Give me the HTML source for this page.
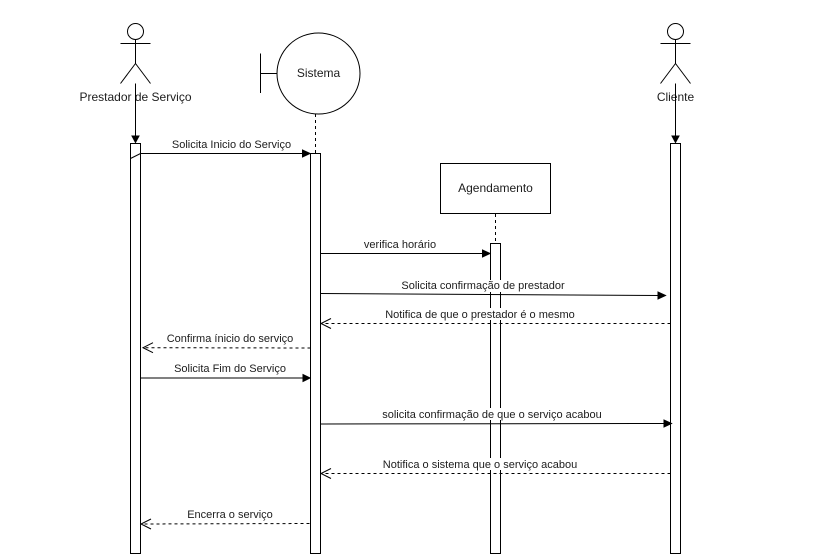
<!DOCTYPE html>
<html>
<head>
<meta charset="utf-8">
<style>
html,body{margin:0;padding:0;background:#fff;width:827px;height:559px;overflow:hidden}
svg{display:block}
text{font-family:"Liberation Sans",Arial,sans-serif;fill:#1c1c1c;text-anchor:middle}
.n{font-size:12px}
.m{font-size:11px}
.l{fill:none;stroke:#000;stroke-width:1}
.d{fill:none;stroke:#000;stroke-width:1;stroke-dasharray:3 3}
.b{fill:#000;stroke:#000;stroke-width:1}
.o{fill:none;stroke:#000;stroke-width:1}
.r{fill:#fff;stroke:#000;stroke-width:1}
.w{fill:#fff;stroke:none}
</style>
</head>
<body>
<svg width="827" height="559" viewBox="0 0 827 559" xmlns="http://www.w3.org/2000/svg">
<!-- Activation bars -->
<rect class="r" x="130.5" y="143.5" width="10" height="410"/>
<rect class="r" x="310.5" y="153.5" width="10" height="400"/>
<rect class="r" x="490.5" y="243.5" width="10" height="310"/>
<rect class="r" x="670.5" y="143.5" width="10" height="410"/>

<!-- Actor: Prestador -->
<circle class="l" cx="135.5" cy="31.5" r="8"/>
<path class="l" d="M135.5 39.5V63.5M120.5 43.5H150.5M135.5 63.5L120.5 83.5M135.5 63.5L150.5 83.5"/>
<text class="n" x="135.5" y="101">Prestador de Serviço</text>
<path class="l" d="M135.5 83.5V138"/>
<path class="b" d="M135.5 142.5L132 136H139Z"/>

<!-- Actor: Cliente -->
<circle class="l" cx="675.5" cy="31.5" r="8"/>
<path class="l" d="M675.5 39.5V63.5M660.5 43.5H690.5M675.5 63.5L660.5 83.5M675.5 63.5L690.5 83.5"/>
<text class="n" x="675.5" y="101">Cliente</text>
<path class="l" d="M675.5 83.5V138"/>
<path class="b" d="M675.5 142.5L672 136H679Z"/>

<!-- Sistema boundary -->
<ellipse class="r" cx="318.5" cy="73.5" rx="41.5" ry="40.5"/>
<path class="l" d="M260.5 53.5V93M260.5 73.5H277"/>
<text class="n" x="318.5" y="77">Sistema</text>
<path class="d" d="M315.5 114V153"/>

<!-- Agendamento -->
<rect class="r" x="440.5" y="163.5" width="110" height="50"/>
<text class="n" x="495.5" y="192">Agendamento</text>
<path class="d" d="M495.5 214V243"/>

<!-- Message 1 -->
<path class="l" d="M130.5 158.5L140.5 153.5H303"/>
<path class="b" d="M310 153.5L302.5 150V157Z"/>
<text class="m" x="231.5" y="148">Solicita Inicio do Serviço</text>

<!-- verifica horario -->
<path class="l" d="M320.5 253.5H483"/>
<path class="b" d="M490 253.5L482.5 250V257Z"/>
<text class="m" x="400" y="248">verifica horário</text>

<!-- Solicita confirmacao de prestador -->
<rect class="w" x="401" y="280" width="165" height="12"/>
<path class="l" d="M320.5 293.5L660 295.5"/>
<path class="b" d="M665.5 295.5L658 292V299Z"/>
<text class="m" x="483" y="289">Solicita confirmação de prestador</text>

<!-- Notifica de que -->
<rect class="w" x="385" y="308" width="190" height="12"/>
<path class="d" d="M670.5 323.5H321"/>
<path class="o" d="M331 318.5L321 323.5L331 328.5"/>
<text class="m" x="480" y="318">Notifica de que o prestador é o mesmo</text>

<!-- Confirma inicio -->
<path class="d" d="M310.5 348L144 347.7"/>
<path class="o" d="M153 342.7L143 347.7L153 352.7"/>
<text class="m" x="230" y="342">Confirma ínicio do serviço</text>

<!-- Solicita Fim -->
<path class="l" d="M140.5 378H304"/>
<path class="b" d="M310 378L303 374.5V381.5Z"/>
<text class="m" x="230" y="372">Solicita Fim do Serviço</text>

<!-- solicita confirmacao acabou -->
<rect class="w" x="382" y="408" width="220" height="12"/>
<path class="l" d="M320.5 424L666 423.5"/>
<path class="b" d="M671.5 423.5L664 420V427Z"/>
<text class="m" x="492" y="418">solicita confirmação de que o serviço acabou</text>

<!-- Notifica o sistema -->
<rect class="w" x="383" y="458" width="195" height="12"/>
<path class="d" d="M670.5 473.5H321"/>
<path class="o" d="M331 468.5L321 473.5L331 478.5"/>
<text class="m" x="480" y="468">Notifica o sistema que o serviço acabou</text>

<!-- Encerra -->
<path class="d" d="M309.5 523.5L142 524"/>
<path class="o" d="M151 519L141 524L151 529"/>
<text class="m" x="230" y="518">Encerra o serviço</text>
</svg>
</body>
</html>
